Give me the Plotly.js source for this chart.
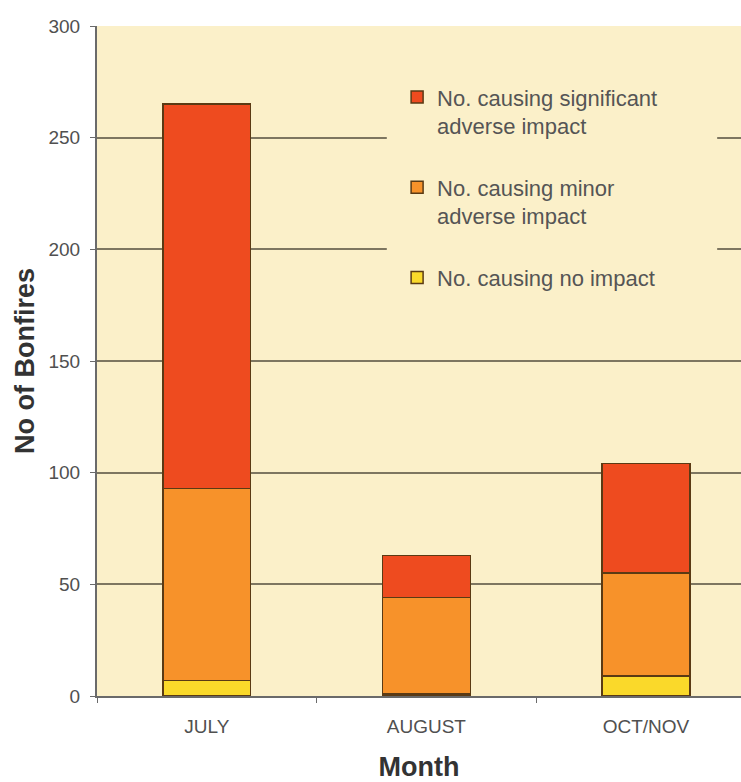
<!DOCTYPE html>
<html>
<head>
<meta charset="utf-8">
<script src="https://cdn.plot.ly/plotly-3.0.1.min.js"></script>
<style>
  html, body { margin: 0; padding: 0; background: #ffffff; }
  #chart { width: 741px; height: 782px; }
</style>
</head>
<body>
<div id="chart"></div>
<script>
// Bonfires by month, split by level of impact
const months = ['JULY', 'AUGUST', 'OCT/NOV'];
const noImpact = [7, 1, 9];
const minorImpact = [86, 43, 46];
const significantImpact = [172, 19, 49];

const seriesNames = [
  'No. causing no impact',
  'No. causing minor<br>adverse impact',
  'No. causing significant<br>adverse impact'
];
const seriesColors = ['#fad92a', '#f7922a', '#ee4b1f'];
const seriesValues = [noImpact, minorImpact, significantImpact];

const traces = seriesValues.map((vals, i) => ({
  type: 'bar',
  name: seriesNames[i],
  legendgroup: 'g' + i,
  legendrank: 3 - i,
  x: months,
  y: vals,
  width: 0.4,
  marker: { color: seriesColors[i], line: { color: '#5a3a14', width: 1.5 } },
  hoverinfo: 'x+y+name'
}));

const plotBg = '#fbf0c9';
const gridColor = '#7d7660';

const layout = {
  width: 741,
  height: 782,
  barmode: 'stack',
  paper_bgcolor: '#ffffff',
  plot_bgcolor: plotBg,
  margin: { l: 97, r: 0, t: 26, b: 86 },
  font: { family: '"Liberation Sans", Arial, sans-serif', color: '#505050' },
  showlegend: true,
  legend: {
    x: 0.466, xanchor: 'left',
    y: 0.925, yanchor: 'top',
    bgcolor: 'rgba(0,0,0,0)',
    borderwidth: 0,
    traceorder: 'grouped',
    tracegroupgap: 30,
    valign: 'top',
    font: { size: 22, color: '#555555' }
  },
  // clear panel behind the legend, hiding the grid lines there
  shapes: [{
    type: 'rect', layer: 'above',
    xref: 'paper', yref: 'paper',
    x0: 0.450, x1: 0.963, y0: 0.60, y1: 0.93,
    fillcolor: plotBg, line: { width: 0 }
  }],
  xaxis: {
    range: [-0.5, 2.433],
    type: 'category',
    showline: true,
    linecolor: '#6a6a6a',
    linewidth: 2,
    ticks: 'outside',
    tickson: 'boundaries',
    ticklen: 5,
    tickcolor: '#6a6a6a',
    ticklabelstandoff: 12,
    tickfont: { size: 19, color: '#505050' },
    showgrid: false,
    title: { text: '<b>Month</b>', font: { size: 27, color: '#333333' }, standoff: 24 },
    fixedrange: true
  },
  yaxis: {
    range: [0, 300],
    dtick: 50,
    showline: true,
    linecolor: '#6a6a6a',
    linewidth: 2,
    ticks: 'outside',
    ticklen: 5,
    tickcolor: '#6a6a6a',
    ticklabelstandoff: 6,
    tickfont: { size: 19, color: '#505050' },
    showgrid: true,
    gridcolor: gridColor,
    gridwidth: 2,
    zeroline: false,
    title: { text: '<b>No of Bonfires</b>', font: { size: 27, color: '#333333' }, standoff: 6 },
    fixedrange: true
  }
};

Plotly.newPlot('chart', traces, layout, { displayModeBar: false, staticPlot: true });
</script>
</body>
</html>
